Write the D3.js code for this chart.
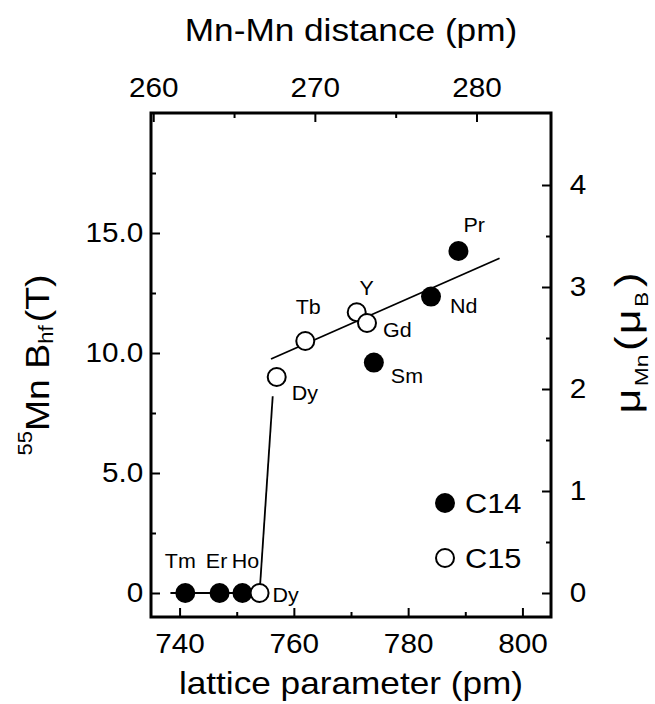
<!DOCTYPE html>
<html>
<head>
<meta charset="utf-8">
<script src="https://cdn.jsdelivr.net/npm/d3@7"></script>
<style>
body { margin: 0; background: #fff; }
text { font-family: "Liberation Sans", Arial, sans-serif; fill: #000; }
</style>
</head>
<body>
<script>
// C14 (filled) and C15 (open) samples: lattice parameter (pm) vs 55Mn hyperfine field (T)
var c14Names = ["Tm", "Er", "Ho", "Sm", "Nd", "Pr"];
var c14Lattice = [741, 747, 751, 774, 784, 788.8];
var c14Field = [0, 0, 0, 9.6, 12.35, 14.25];

var c15Names = ["Dy", "Dy", "Tb", "Y", "Gd"];
var c15Lattice = [754, 757, 762, 771, 772.8];
var c15Field = [0, 9.0, 10.5, 11.7, 11.25];

// guide lines drawn through the points
var lowLine = [[738.4, 0], [754, 0]];
var jumpLine = [[754, 0], [756.3, 8.2]];
var fitLine = [[756, 9.75], [796, 13.95]];

var bottomTicks = [740, 760, 780, 800], bottomMinor = [750, 770, 790];
var topTicks = [260, 270, 280], topMinor = [265, 275];
var leftTicks = [0, 5, 10, 15], leftMinor = [2.5, 7.5, 12.5, 17.5];
var rightTicks = [0, 1, 2, 3, 4], rightMinor = [0.5, 1.5, 2.5, 3.5];
var legendNames = ["C14", "C15"];

// label placement relative to each point (px)
var c14LabelDx = [-5, -3, 3, 17, 19, 5], c14LabelDy = [-25, -25, -25, 20, 16, -19];
var c14Anchor = ["middle", "middle", "middle", "start", "start", "start"];
var c15LabelDx = [13, 15, 3, 10, 16], c15LabelDy = [9, 23, -27, -17, 14];
var c15Anchor = ["start", "start", "middle", "middle", "start"];

var T_PER_MU = 4.25;   // field per Bohr magneton used for right axis
var STRETCH = "scale(1.1,1)";

var svg = d3.select("body").append("svg")
  .attr("width", 655).attr("height", 704);

var x = d3.scaleLinear().domain([735, 805]).range([151, 551]);
var y = d3.scaleLinear().domain([-1, 20]).range([617, 113]);
var xTop = d3.scaleLinear().domain(x.domain().map(function(a){ return a * Math.SQRT2 / 4; })).range(x.range());
var yRight = d3.scaleLinear().domain(y.domain().map(function(b){ return b / T_PER_MU; })).range(y.range());

function drawAxis(axisFn, scale, major, minor, fmt, shift, pad) {
  var gMinor = svg.append("g").attr("transform", shift);
  gMinor.call(axisFn(scale).tickValues(minor).tickSizeInner(-5).tickSizeOuter(0).tickFormat(""));
  var g = svg.append("g").attr("transform", shift);
  g.call(axisFn(scale).tickValues(major).tickSizeInner(-9).tickSizeOuter(0)
    .tickPadding(pad).tickFormat(fmt));
  [g, gMinor].forEach(function(s){
    s.selectAll(".domain").remove();
    s.selectAll("line").attr("stroke", "#000").attr("stroke-width", 2);
  });
  g.attr("font-size", 27).attr("font-family", null);
  g.selectAll("text").attr("fill", "#000").attr("transform", STRETCH);
}

drawAxis(d3.axisBottom, x, bottomTicks, bottomMinor, d3.format("d"), "translate(0,617)", 17);
drawAxis(d3.axisTop, xTop, topTicks, topMinor, d3.format("d"), "translate(0,113)", 16);
drawAxis(d3.axisLeft, y, leftTicks, leftMinor, function(d){ return d === 0 ? "0" : d3.format(".1f")(d); }, "translate(151,0)", 7);
drawAxis(d3.axisRight, yRight, rightTicks, rightMinor, d3.format("d"), "translate(551,0)", 17);

// frame
svg.append("rect")
  .attr("x", x.range()[0]).attr("y", y.range()[1])
  .attr("width", x.range()[1] - x.range()[0]).attr("height", y.range()[0] - y.range()[1])
  .attr("fill", "none").attr("stroke", "#000").attr("stroke-width", 3);

// guide lines
var line = d3.line().x(function(d){ return x(d[0]); }).y(function(d){ return y(d[1]); });
[lowLine, jumpLine, fitLine].forEach(function(seg){
  svg.append("path").attr("d", line(seg))
    .attr("fill", "none").attr("stroke", "#000").attr("stroke-width", 1.8);
});

// points
var c14 = c14Names.map(function(n, i){ return {name: n, a: c14Lattice[i], b: c14Field[i], dx: c14LabelDx[i], dy: c14LabelDy[i], anchor: c14Anchor[i]}; });
var c15 = c15Names.map(function(n, i){ return {name: n, a: c15Lattice[i], b: c15Field[i], dx: c15LabelDx[i], dy: c15LabelDy[i], anchor: c15Anchor[i]}; });

svg.selectAll("circle.c14").data(c14).enter().append("circle")
  .attr("class", "c14")
  .attr("cx", function(d){ return x(d.a); }).attr("cy", function(d){ return y(d.b); })
  .attr("r", 10).attr("fill", "#000");

svg.selectAll("circle.c15").data(c15).enter().append("circle")
  .attr("class", "c15")
  .attr("cx", function(d){ return x(d.a); }).attr("cy", function(d){ return y(d.b); })
  .attr("r", 9).attr("fill", "#fff").attr("stroke", "#000").attr("stroke-width", 2);

svg.selectAll("text.lbl").data(c14.concat(c15)).enter().append("text")
  .attr("class", "lbl")
  .attr("font-size", 19.5)
  .attr("text-anchor", function(d){ return d.anchor; })
  .attr("transform", function(d){ return "translate(" + (x(d.a) + d.dx) + "," + (y(d.b) + d.dy) + ") " + STRETCH; })
  .text(function(d){ return d.name; });

// legend
var legend = svg.append("g").attr("transform", "translate(445,503)");
legendNames.forEach(function(n, i){
  var row = legend.append("g").attr("transform", "translate(0," + (i * 55) + ")");
  if (i === 0) {
    row.append("circle").attr("r", 10).attr("fill", "#000");
  } else {
    row.append("circle").attr("r", 9).attr("fill", "#fff").attr("stroke", "#000").attr("stroke-width", 2);
  }
  row.append("text").attr("transform", "translate(20,10) " + STRETCH)
    .attr("font-size", 28).text(n);
});

// axis titles
svg.append("text").attr("transform", "translate(351,41) " + STRETCH)
  .attr("text-anchor", "middle").attr("font-size", 32).text("Mn-Mn distance (pm)");
svg.append("text").attr("transform", "translate(351,694) " + STRETCH)
  .attr("text-anchor", "middle").attr("font-size", 32).text("lattice parameter (pm)");

var lt = svg.append("text").attr("transform", "translate(49,365) rotate(-90) " + STRETCH)
  .attr("text-anchor", "middle").attr("font-size", 34);
lt.append("tspan").attr("font-size", 20).attr("dy", -17).text("55");
lt.append("tspan").attr("dy", 17).text("Mn B");
lt.append("tspan").attr("font-size", 20).attr("dy", 4).text("hf");
lt.append("tspan").attr("dy", -4).attr("dx", 3).text("(T)");

var rt = svg.append("text").attr("transform", "translate(640,343) rotate(-90) scale(1.2,1)")
  .attr("text-anchor", "middle").attr("font-size", 36);
rt.append("tspan").text("μ");
rt.append("tspan").attr("font-size", 19).attr("dy", 8).attr("dx", 2).text("Mn");
rt.append("tspan").attr("dy", -8).attr("dx", 3).text("(");
rt.append("tspan").attr("dx", 2).text("μ");
rt.append("tspan").attr("font-size", 19).attr("dy", 8).attr("dx", 2).text("B");
rt.append("tspan").attr("dy", -8).attr("dx", 4).text(")");
</script>
</body>
</html>
